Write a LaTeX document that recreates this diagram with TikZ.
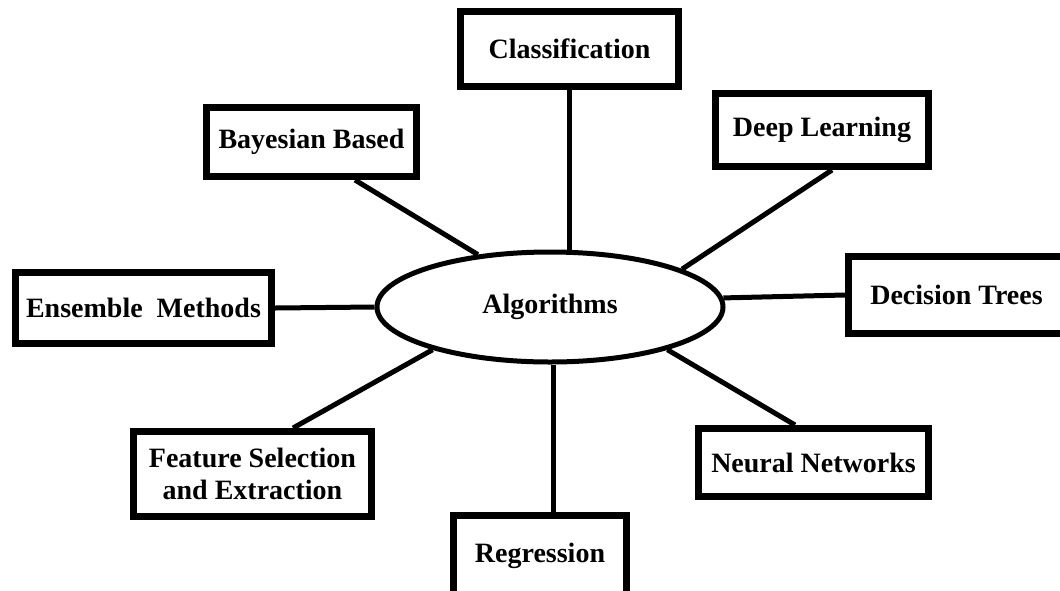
\documentclass[tikz,border=0pt]{standalone}
\usepackage{fontspec}
\setmainfont{Liberation Serif}
\usetikzlibrary{shapes.geometric}
\begin{document}
\begin{tikzpicture}[x=1pt,y=-1pt,
  labelfont/.style={font=\fontsize{28}{32}\selectfont\bfseries},
  box/.style={draw=black, line width=7pt, fill=white, rectangle,
    inner sep=0pt, align=center, labelfont},
  hub/.style={draw=black, line width=5pt, fill=white, ellipse,
    inner sep=0pt, minimum width=346pt, minimum height=110pt, labelfont},
  link/.style={draw=black, line width=5pt}
]
\useasboundingbox (0,0) rectangle (1060,590);
\clip (0,0) rectangle (1060,590);
\fill[white] (0,0) rectangle (1060,590);

% central ellipse
\node[hub] (alg) at (550,307) {Algorithms};

% surrounding boxes
\node[box, minimum width=218pt, minimum height=75pt] (cls)  at (569.5,49)  {Classification};
\node[box, minimum width=210pt, minimum height=69pt] (bay)  at (311.5,142) {Bayesian Based};
\node[box, minimum width=213pt, minimum height=73pt] (deep) at (822,130)   {Deep Learning};
\node[box, minimum width=256pt, minimum height=71pt] (ens)  at (143.5,308) {Ensemble\hspace{0.25em} Methods};
\node[box, minimum width=216pt, minimum height=77pt] (dec)  at (956.5,295) {Decision Trees};
\node[box, minimum width=238pt, minimum height=85pt] (feat) at (252.5,474) {Feature Selection\\and Extraction};
\node[box, minimum width=230pt, minimum height=68pt] (neu)  at (813.5,462.5) {Neural Networks};
\node[box, minimum width=173pt, minimum height=81pt] (reg)  at (540,556)   {Regression};

% spokes from the boxes to the ellipse
\draw[link] (cls.south) -- (cls.south |- alg.north);
\draw[link] ([xshift=43.5pt]bay.south) -- (alg.144.5);
\draw[link] ([xshift=10pt]deep.south) -- (alg.16.3);
\draw[link] (ens.east) -- (alg.west);
\draw[link] (dec.west) -- (alg.3.9);
\draw[link] ([xshift=40.5pt]feat.north) -- (alg.200);
\draw[link] ([xshift=-18.5pt]neu.north) -- (alg.340);
\draw[link] ([xshift=13pt]reg.north) -- ([xshift=13pt]reg.north |- alg.south);
\end{tikzpicture}
\end{document}
